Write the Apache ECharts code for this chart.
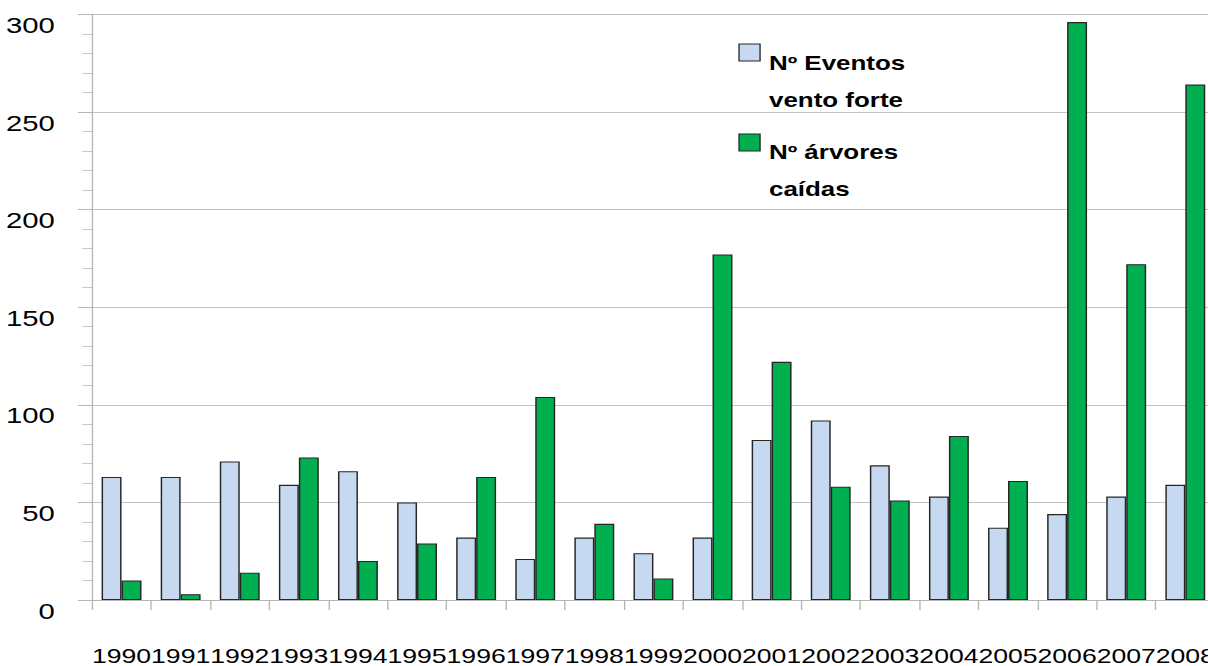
<!DOCTYPE html>
<html>
<head>
<meta charset="utf-8">
<script src="https://cdn.jsdelivr.net/npm/echarts@6/dist/echarts.min.js"></script>
<style>
  html, body { margin: 0; padding: 0; background: #fff; overflow: hidden; }
  /* chart is laid out on a narrower canvas and widened horizontally;
     the last category runs slightly past the right edge of the page */
  #chart { width: 920px; height: 666px; transform: scaleX(1.3304); transform-origin: 0 0; }
</style>
</head>
<body>
<div id="chart"></div>
<script>
// Years on the category axis
const years = ['1990','1991','1992','1993','1994','1995','1996','1997','1998','1999',
               '2000','2001','2002','2003','2004','2005','2006','2007','2008'];
// Number of strong-wind events per year
const eventosVento = [63, 63, 71, 59, 66, 50, 32, 21, 32, 24, 32, 82, 92, 69, 53, 37, 44, 53, 59];
// Number of fallen trees per year
const arvoresCaidas = [10, 3, 14, 73, 20, 29, 63, 104, 39, 11, 177, 122, 58, 51, 84, 61, 296, 172, 264];
// Series names shown in the legend
const seriesNames = ['Nº Eventos\nvento forte', 'Nº árvores\ncaídas'];

const BLUE = '#c6d9f0';
const GREEN = '#00b050';
const EDGE = '#262626';
const GRID_GRAY = '#c3c3c3';
const FONT = '"Liberation Sans", Arial, sans-serif';

const chart = echarts.init(document.getElementById('chart'), null, { renderer: 'svg' });

chart.setOption({
  animation: false,
  backgroundColor: '#ffffff',
  grid: { left: 69.15, top: 14.3, width: 844, height: 586.7 },
  xAxis: {
    type: 'category',
    data: years,
    boundaryGap: true,
    axisLine: { show: true, lineStyle: { color: '#b5b5b5', width: 1 } },
    axisTick: { show: true, length: 10, lineStyle: { color: '#b5b5b5' } },
    axisLabel: { interval: 0, margin: 46, color: '#000', fontSize: 20, fontFamily: FONT }
  },
  yAxis: {
    type: 'value',
    min: 0, max: 300, interval: 50,
    axisLine: { show: true, lineStyle: { color: '#b5b5b5', width: 1 } },
    axisTick: { show: true, length: 10.5, lineStyle: { color: '#b5b5b5' } },
    minorTick: { show: true, splitNumber: 5, length: 7.5, lineStyle: { color: '#c8c8c8' } },
    splitLine: { show: true, lineStyle: { color: GRID_GRAY, width: 1 } },
    axisLabel: {
      margin: 28, color: '#000', fontSize: 22, fontFamily: FONT,
      verticalAlign: 'top', lineHeight: 22
    }
  },
  series: [
    {
      name: seriesNames[0], type: 'bar', data: eventosVento,
      barWidth: 15, barGap: '0%',
      itemStyle: { color: BLUE, borderColor: EDGE, borderWidth: 1.1 }
    },
    {
      name: seriesNames[1], type: 'bar', data: arvoresCaidas,
      barWidth: 15, barGap: '0%',
      itemStyle: { color: GREEN, borderColor: EDGE, borderWidth: 1.1 }
    }
  ],
  graphic: [
    { type: 'rect', shape: { x: 555.5, y: 44, width: 15.8, height: 17 },
      style: { fill: BLUE, stroke: EDGE, lineWidth: 1 } },
    { type: 'text', x: 578, y: 44.4,
      style: { text: seriesNames[0], fill: '#000', font: 'bold 19.5px ' + FONT,
               lineHeight: 37, verticalAlign: 'top' } },
    { type: 'rect', shape: { x: 555.5, y: 134, width: 15.8, height: 17 },
      style: { fill: GREEN, stroke: EDGE, lineWidth: 1 } },
    { type: 'text', x: 578, y: 133.7,
      style: { text: seriesNames[1], fill: '#000', font: 'bold 19.5px ' + FONT,
               lineHeight: 37, verticalAlign: 'top' } }
  ]
});
</script>
</body>
</html>
